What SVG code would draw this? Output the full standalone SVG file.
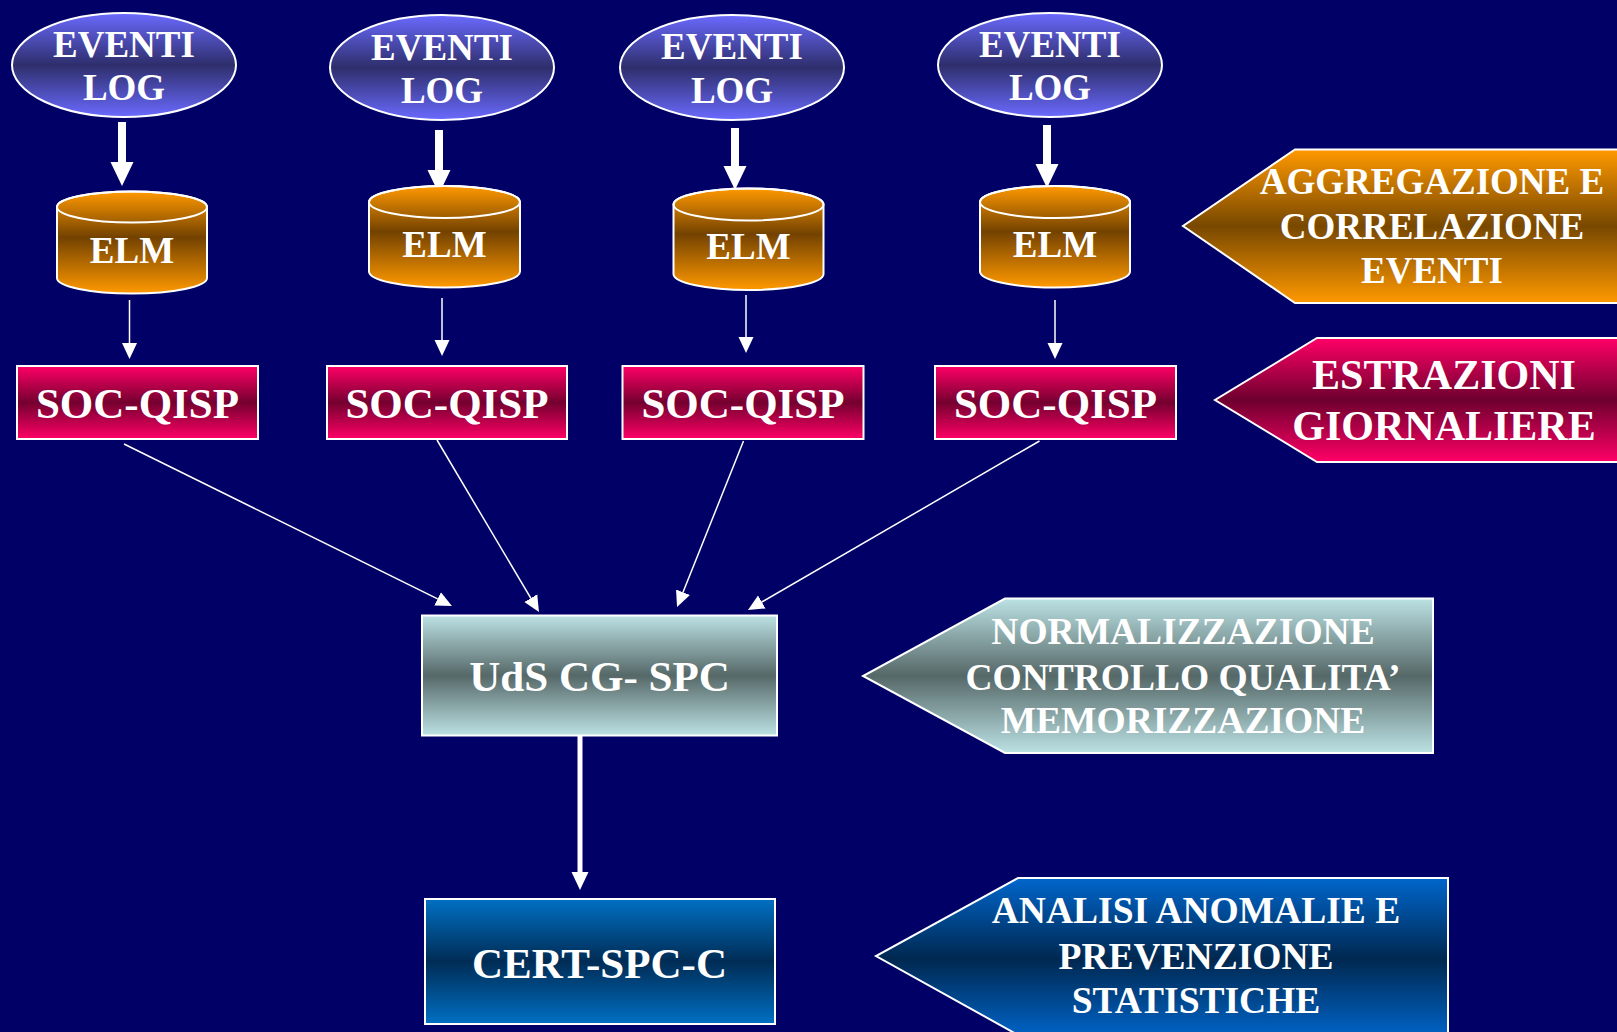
<svg xmlns="http://www.w3.org/2000/svg" width="1617" height="1032" viewBox="0 0 1617 1032">
<defs>
<linearGradient id="gEll" x1="0" y1="0" x2="0" y2="1">
<stop offset="0" stop-color="#6A6AFF"/><stop offset="0.5" stop-color="#2E2E6C"/><stop offset="1" stop-color="#6A6AFF"/>
</linearGradient>
<linearGradient id="gCyl" x1="0" y1="0" x2="0" y2="1">
<stop offset="0" stop-color="#FF9900"/><stop offset="0.45" stop-color="#734200"/><stop offset="1" stop-color="#FF9900"/>
</linearGradient>
<linearGradient id="gSoc" x1="0" y1="0" x2="0" y2="1">
<stop offset="0" stop-color="#FF0066"/><stop offset="0.5" stop-color="#74002F"/><stop offset="1" stop-color="#FF0066"/>
</linearGradient>
<linearGradient id="gUds" x1="0" y1="0" x2="0" y2="1">
<stop offset="0" stop-color="#BCE2E4"/><stop offset="0.5" stop-color="#566868"/><stop offset="1" stop-color="#BCE2E4"/>
</linearGradient>
<linearGradient id="gCert" x1="0" y1="0" x2="0" y2="1">
<stop offset="0" stop-color="#0070C4"/><stop offset="0.5" stop-color="#002C55"/><stop offset="1" stop-color="#0070C4"/>
</linearGradient>
<linearGradient id="gOr" x1="0" y1="0" x2="0" y2="1">
<stop offset="0" stop-color="#FF9900"/><stop offset="0.5" stop-color="#784800"/><stop offset="1" stop-color="#FF9900"/>
</linearGradient>
<linearGradient id="gPk" x1="0" y1="0" x2="0" y2="1">
<stop offset="0" stop-color="#FF0066"/><stop offset="0.5" stop-color="#6E002E"/><stop offset="1" stop-color="#FF0066"/>
</linearGradient>
<linearGradient id="gBl" x1="0" y1="0" x2="0" y2="1">
<stop offset="0" stop-color="#0066CC"/><stop offset="0.5" stop-color="#002850"/><stop offset="1" stop-color="#0066CC"/>
</linearGradient>
<marker id="mThick" markerUnits="userSpaceOnUse" markerWidth="24" markerHeight="24" refX="0" refY="12" orient="auto" viewBox="0 0 24 24">
<path d="M0,0.5 L24,12 L0,23.5 Z" fill="#fff"/>
</marker>
<marker id="mThin" markerUnits="userSpaceOnUse" markerWidth="16" markerHeight="16" refX="0" refY="8" orient="auto" viewBox="0 0 16 16">
<path d="M0,0.5 L16,8 L0,15.5 Z" fill="#fff"/>
</marker>
<marker id="mMid" markerUnits="userSpaceOnUse" markerWidth="18" markerHeight="18" refX="0" refY="9" orient="auto" viewBox="0 0 18 18">
<path d="M0,0.5 L18,9 L0,17.5 Z" fill="#fff"/>
</marker>
</defs>
<style>
.t{font-family:"Liberation Serif","Times New Roman",serif;font-weight:bold;fill:#fff;text-anchor:middle}
.s{stroke:#fff;stroke-width:2}
.c{fill:none;stroke:#fff}
</style>
<rect x="0" y="0" width="1617" height="1032" fill="#000066"/>

<g id="connectors">
<line class="c" x1="122" y1="122" x2="122" y2="162" stroke-width="8" marker-end="url(#mThick)"/>
<line class="c" x1="439" y1="130" x2="439" y2="170" stroke-width="8" marker-end="url(#mThick)"/>
<line class="c" x1="735" y1="128" x2="735" y2="166" stroke-width="8" marker-end="url(#mThick)"/>
<line class="c" x1="1047" y1="125" x2="1047" y2="164" stroke-width="8" marker-end="url(#mThick)"/>
<line class="c" x1="129.5" y1="300" x2="129.5" y2="343" stroke-width="1.5" marker-end="url(#mThin)"/>
<line class="c" x1="442" y1="298" x2="442" y2="340" stroke-width="1.5" marker-end="url(#mThin)"/>
<line class="c" x1="746" y1="295" x2="746" y2="337" stroke-width="1.5" marker-end="url(#mThin)"/>
<line class="c" x1="1055" y1="300" x2="1055" y2="343" stroke-width="1.5" marker-end="url(#mThin)"/>
<line class="c" x1="124" y1="444" x2="437.6" y2="598.9" stroke-width="1.5" marker-end="url(#mThin)"/>
<line class="c" x1="437" y1="440" x2="530.8" y2="598.2" stroke-width="1.5" marker-end="url(#mThin)"/>
<line class="c" x1="743.5" y1="441" x2="683" y2="592.2" stroke-width="1.5" marker-end="url(#mThin)"/>
<line class="c" x1="1039.5" y1="441" x2="761.8" y2="602" stroke-width="1.5" marker-end="url(#mThin)"/>
<line class="c" x1="580" y1="736" x2="580" y2="872" stroke-width="5" marker-end="url(#mMid)"/>
</g>

<g id="log1"><ellipse class="s" cx="124" cy="65" rx="112" ry="52" fill="url(#gEll)"/><text class="t" x="124" y="57" font-size="37">EVENTI</text><text class="t" x="124" y="100" font-size="37">LOG</text></g>
<g id="log2"><ellipse class="s" cx="442" cy="67.5" rx="112" ry="52.5" fill="url(#gEll)"/><text class="t" x="442" y="60" font-size="37">EVENTI</text><text class="t" x="442" y="103" font-size="37">LOG</text></g>
<g id="log3"><ellipse class="s" cx="732" cy="67.5" rx="112" ry="52.5" fill="url(#gEll)"/><text class="t" x="732" y="59" font-size="37">EVENTI</text><text class="t" x="732" y="103" font-size="37">LOG</text></g>
<g id="log4"><ellipse class="s" cx="1050" cy="65" rx="112" ry="52" fill="url(#gEll)"/><text class="t" x="1050" y="57" font-size="37">EVENTI</text><text class="t" x="1050" y="100" font-size="37">LOG</text></g>

<g id="elm1"><path class="s" d="M57,207 A75,15.5 0 0 1 207,207 L207,278 A75,15.5 0 0 1 57,278 Z" fill="url(#gCyl)"/><ellipse class="c" cx="132" cy="207" rx="75" ry="15.5" stroke-width="2"/><text class="t" x="132" y="263" font-size="37">ELM</text></g>
<g id="elm2"><path class="s" d="M369,202 A75.5,16 0 0 1 520,202 L520,271.5 A75.5,16 0 0 1 369,271.5 Z" fill="url(#gCyl)"/><ellipse class="c" cx="444.5" cy="202" rx="75.5" ry="16" stroke-width="2"/><text class="t" x="444.5" y="257" font-size="37">ELM</text></g>
<g id="elm3"><path class="s" d="M673.5,204.5 A75,16 0 0 1 823.5,204.5 L823.5,274 A75,16 0 0 1 673.5,274 Z" fill="url(#gCyl)"/><ellipse class="c" cx="748.5" cy="204.5" rx="75" ry="16" stroke-width="2"/><text class="t" x="748.5" y="259" font-size="37">ELM</text></g>
<g id="elm4"><path class="s" d="M980,202 A75,16 0 0 1 1130,202 L1130,271.5 A75,16 0 0 1 980,271.5 Z" fill="url(#gCyl)"/><ellipse class="c" cx="1055" cy="202" rx="75" ry="16" stroke-width="2"/><text class="t" x="1055" y="257" font-size="37">ELM</text></g>

<g id="soc1"><rect class="s" x="17" y="366" width="241" height="73" fill="url(#gSoc)"/><text class="t" x="137.5" y="418" font-size="43">SOC-QISP</text></g>
<g id="soc2"><rect class="s" x="327" y="366" width="240" height="73" fill="url(#gSoc)"/><text class="t" x="447" y="418" font-size="43">SOC-QISP</text></g>
<g id="soc3"><rect class="s" x="622.5" y="366" width="241" height="73" fill="url(#gSoc)"/><text class="t" x="743" y="418" font-size="43">SOC-QISP</text></g>
<g id="soc4"><rect class="s" x="935" y="366" width="241" height="73" fill="url(#gSoc)"/><text class="t" x="1055.5" y="418" font-size="43">SOC-QISP</text></g>

<g id="uds"><rect class="s" x="422" y="615.5" width="355" height="120" fill="url(#gUds)"/><text class="t" x="599.5" y="691" font-size="43">UdS CG- SPC</text></g>
<g id="cert"><rect class="s" x="425" y="899" width="350" height="125" fill="url(#gCert)"/><text class="t" x="599.5" y="978" font-size="43">CERT-SPC-C</text></g>

<g id="label-aggregazione"><path class="s" d="M1625,149.5 L1295,149.5 L1183,226 L1295,303 L1625,303" fill="url(#gOr)"/><text class="t" x="1432" y="194" font-size="37">AGGREGAZIONE E</text><text class="t" x="1432" y="239" font-size="37">CORRELAZIONE</text><text class="t" x="1432" y="283" font-size="37">EVENTI</text></g>
<g id="label-estrazioni"><path class="s" d="M1625,338 L1317,338 L1215,400 L1317,462 L1625,462" fill="url(#gPk)"/><text class="t" x="1444" y="389" font-size="42">ESTRAZIONI</text><text class="t" x="1444" y="440" font-size="42">GIORNALIERE</text></g>
<g id="label-normalizzazione"><path class="s" d="M1433,598.5 L1005,598.5 L863,676 L1005,753 L1433,753 Z" fill="url(#gUds)"/><text class="t" x="1183" y="644" font-size="37.5">NORMALIZZAZIONE</text><text class="t" x="1183" y="690" font-size="37.5">CONTROLLO QUALITA’</text><text class="t" x="1183" y="733" font-size="37.5">MEMORIZZAZIONE</text></g>
<g id="label-analisi"><path class="s" d="M1448,1040 L1448,878 L1018,878 L876,956 L1018,1035" fill="url(#gBl)"/><text class="t" x="1196" y="923" font-size="37.5">ANALISI ANOMALIE E</text><text class="t" x="1196" y="969" font-size="37.5">PREVENZIONE</text><text class="t" x="1196" y="1013" font-size="37.5">STATISTICHE</text></g>
</svg>
